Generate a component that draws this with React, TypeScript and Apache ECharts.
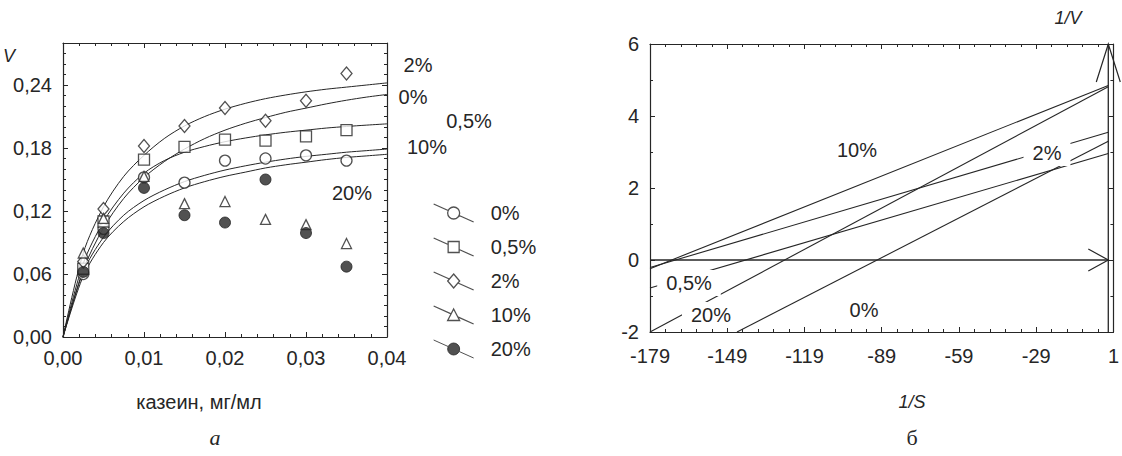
import React, { useEffect, useRef } from "react";
import * as echarts from "echarts";

const W = 1122;
const H = 456;
const FONT = "'Liberation Sans', Arial, sans-serif";
const SERIF = "'Liberation Serif', 'Times New Roman', serif";
const INK = "#262626";

// ---------- Panel а: V vs casein (mg/ml) ----------
const groups = ["0%", "0,5%", "2%", "10%", "20%"];
const caseinX = [0.0025, 0.005, 0.01, 0.015, 0.02, 0.025, 0.03, 0.035];
const v0pct = [0.06, 0.103, 0.152, 0.147, 0.168, 0.17, 0.173, 0.168];
const v05pct = [0.065, 0.11, 0.169, 0.181, 0.188, 0.187, 0.191, 0.197];
const v2pct = [0.072, 0.122, 0.182, 0.201, 0.218, 0.206, 0.225, 0.251];
const v10pct = [0.08, 0.113, 0.153, 0.127, 0.129, 0.112, 0.107, 0.089];
const v20pct = [0.062, 0.099, 0.142, 0.116, 0.109, 0.15, 0.099, 0.067];

// fitted curves (every 0.0025 mg/ml)
const fitX = [0, 0.0025, 0.005, 0.0075, 0.01, 0.0125, 0.015, 0.0175, 0.02, 0.0225, 0.025, 0.0275, 0.03, 0.0325, 0.035, 0.0375, 0.04];
const fit0 = [0, 0.064, 0.104, 0.132, 0.152, 0.167, 0.179, 0.189, 0.197, 0.2035, 0.209, 0.214, 0.218, 0.222, 0.2255, 0.2285, 0.231];
const fit05 = [0, 0.07, 0.11, 0.137, 0.156, 0.168, 0.176, 0.1815, 0.186, 0.1895, 0.1925, 0.195, 0.197, 0.199, 0.2005, 0.2018, 0.203];
const fit2 = [0, 0.08, 0.124, 0.153, 0.173, 0.189, 0.201, 0.21, 0.217, 0.2225, 0.227, 0.2305, 0.2335, 0.236, 0.238, 0.24, 0.242];
const fit10 = [0, 0.062, 0.095, 0.116, 0.13, 0.14, 0.148, 0.154, 0.159, 0.163, 0.1665, 0.1695, 0.172, 0.174, 0.176, 0.1775, 0.179];
const fit20 = [0, 0.058, 0.09, 0.11, 0.124, 0.134, 0.142, 0.148, 0.153, 0.157, 0.161, 0.164, 0.1665, 0.169, 0.171, 0.1725, 0.174];

const leftXTicks = { min: 0, max: 0.04, interval: 0.01 };
const leftYTicks = { min: 0, max: 0.28, interval: 0.06 };

// ---------- Panel б: 1/V vs 1/S (Lineweaver–Burk) ----------
const lb0 = [[-145.2, -2.0], [-1, 3.3]];
const lb05 = [[-179, -0.78], [-1, 2.96]];
const lb2 = [[-179, -0.21], [-1, 3.55]];
const lb10 = [[-179, -0.24], [-1, 4.85]];
const lb20 = [[-179, -2.0], [-1, 4.81]];
const axisH = [[-179, 0], [-1, 0]];
const axisV = [[-1, -2], [-1, 6]];
const arrowTips = [[-1, 0, 0], [-1, 6, 1]];
const rightXTicks = { min: -179, max: 1, interval: 30 };
const rightYTicks = { min: -2, max: 6, interval: 2 };

const comma = (v: number) => v.toFixed(2).replace(".", ",");

const axisStyle = (minorSplit: number, showLabel: boolean, extra: any = {}) => ({
  type: "value",
  axisLine: { show: true, onZero: false, lineStyle: { color: INK, width: 1.2 } },
  axisTick: { show: true, inside: true, length: 5, lineStyle: { color: INK, width: 1 } },
  minorTick: { show: true, splitNumber: minorSplit, length: 3, lineStyle: { color: INK, width: 1 } },
  splitLine: { show: false },
  minorSplitLine: { show: false },
  axisLabel: { show: showLabel, color: INK, fontSize: 20, fontFamily: FONT },
  ...extra,
});

const iconLineCircle = "path://M0,0L14.5,6.5M25.5,11.5L40,18M26,9A6,6,0,1,1,14,9A6,6,0,1,1,26,9Z";
const iconLineSquare = "path://M0,0L14.5,6.5M25.5,11.5L40,18M14.5,3.5L25.5,3.5L25.5,14.5L14.5,14.5Z";
const iconLineDiamond = "path://M0,0L15.7,7M24.3,11L40,18M20,2L26,9L20,16L14,9Z";
const iconLineTriangle = "path://M0,0L17.5,7.9M24.1,10.8L40,18M20,3L26,14.5L14,14.5Z";

const openStyle = { color: "#ffffff", borderColor: INK, borderWidth: 1.3 };
const filledStyle = { color: INK, borderColor: INK, borderWidth: 1 };

const pointSets = [v0pct, v05pct, v2pct, v10pct, v20pct];
const fitSets = [fit0, fit05, fit2, fit10, fit20];
const symbols = ["circle", "rect", "diamond", "triangle", "circle"];
const symbolSizes: any[] = [11, 11, [11, 13], [10, 10], 11];
const icons = [iconLineCircle, iconLineSquare, iconLineDiamond, iconLineTriangle, iconLineCircle];

const leftCurveLabels = [
  { text: "2%", x: 418, y: 65 },
  { text: "0%", x: 413, y: 97 },
  { text: "0,5%", x: 469, y: 121 },
  { text: "10%", x: 427, y: 147 },
  { text: "20%", x: 352, y: 193 },
];
const rightLineLabels = [
  { text: "10%", x: 857, y: 150 },
  { text: "2%", x: 1047, y: 153 },
  { text: "0,5%", x: 689, y: 283 },
  { text: "20%", x: 711, y: 315 },
  { text: "0%", x: 864, y: 310 },
];

function buildOption(): any {
  const series: any[] = [];
  fitSets.forEach((fs, i) => {
    series.push({
      type: "line",
      name: "fit " + groups[i],
      xAxisIndex: 0,
      yAxisIndex: 0,
      data: fitX.map((x, j) => [x, fs[j]]),
      smooth: 0.3,
      symbol: "none",
      lineStyle: { color: INK, width: 1 },
      z: 1,
      silent: true,
    });
  });
  pointSets.forEach((ps, i) => {
    series.push({
      type: "scatter",
      name: groups[i],
      xAxisIndex: 0,
      yAxisIndex: 0,
      data: caseinX.map((x, j) => [x, ps[j]]),
      symbol: symbols[i],
      symbolSize: symbolSizes[i],
      itemStyle: i === 4 ? filledStyle : openStyle,
      z: 3 + i,
      silent: true,
    });
  });
  [lb0, lb05, lb2, lb10, lb20].forEach((d, i) => {
    series.push({
      type: "line",
      name: "LB " + groups[i],
      xAxisIndex: 2,
      yAxisIndex: 2,
      data: d,
      symbol: "none",
      lineStyle: { color: INK, width: 1.1 },
      silent: true,
      z: 2,
    });
  });
  [axisH, axisV].forEach((d, i) => {
    series.push({
      type: "line",
      name: i === 0 ? "axis 1/S" : "axis 1/V",
      xAxisIndex: 2,
      yAxisIndex: 2,
      data: d,
      symbol: "none",
      lineStyle: { color: INK, width: 1.3 },
      silent: true,
      z: 2,
    });
  });
  series.push({
    type: "custom",
    name: "arrows",
    xAxisIndex: 2,
    yAxisIndex: 2,
    data: arrowTips,
    clip: false,
    silent: true,
    renderItem: (params: any, api: any) => {
      const p = api.coord([api.value(0), api.value(1)]);
      const dir = api.value(2);
      const pts =
        dir === 0
          ? [[p[0] - 20, p[1] - 11], [p[0], p[1]], [p[0] - 20, p[1] + 11]]
          : [[p[0] - 12, p[1] + 38], [p[0], p[1]], [p[0] + 12, p[1] + 38]];
      return {
        type: "polyline",
        shape: { points: pts },
        style: { stroke: INK, fill: "none", lineWidth: 1.2 },
      };
    },
  });

  const graphic: any[] = [];
  leftCurveLabels.forEach((l) =>
    graphic.push({
      type: "text",
      x: l.x,
      y: l.y,
      z: 100,
      style: { text: l.text, fontSize: 20, fontFamily: FONT, fill: INK, align: "center", verticalAlign: "middle" },
    })
  );
  rightLineLabels.forEach((l) =>
    graphic.push({
      type: "text",
      x: l.x,
      y: l.y,
      z: 100,
      style: {
        text: l.text,
        fontSize: 20,
        fontFamily: FONT,
        fill: INK,
        align: "center",
        verticalAlign: "middle",
        backgroundColor: "#ffffff",
        padding: [3, 9],
      },
    })
  );
  const titles = [
    { text: "V", x: 9, y: 56, size: 18, italic: true, family: FONT },
    { text: "казеин, мг/мл", x: 199, y: 402, size: 20, italic: false, family: FONT },
    { text: "а", x: 215, y: 437, size: 22, italic: true, family: SERIF },
    { text: "1/V", x: 1068, y: 18, size: 18, italic: true, family: FONT },
    { text: "1/S", x: 912, y: 402, size: 18, italic: true, family: FONT },
    { text: "б", x: 912, y: 437, size: 22, italic: false, family: SERIF },
  ];
  titles.forEach((t) =>
    graphic.push({
      type: "text",
      x: t.x,
      y: t.y,
      z: 100,
      style: {
        text: t.text,
        fontSize: t.size,
        fontFamily: t.family,
        fontStyle: t.italic ? "italic" : "normal",
        fill: INK,
        align: "center",
        verticalAlign: "middle",
      },
    })
  );

  return {
    animation: false,
    backgroundColor: "#ffffff",
    textStyle: { fontFamily: FONT },
    grid: [
      { left: 63, top: 43, width: 324, height: 294 },
      { left: 650, top: 44, width: 470, height: 288 },
    ],
    xAxis: [
      axisStyle(5, true, {
        gridIndex: 0,
        position: "bottom",
        ...leftXTicks,
        axisLabel: { show: true, color: INK, fontSize: 20, fontFamily: FONT, margin: 11, formatter: comma },
      }),
      axisStyle(5, false, { gridIndex: 0, position: "top", ...leftXTicks }),
      axisStyle(5, true, {
        gridIndex: 1,
        position: "bottom",
        ...rightXTicks,
        axisLabel: {
          show: true,
          color: INK,
          fontSize: 20,
          fontFamily: FONT,
          margin: 14,
          formatter: (v: number) => String(Math.round(v)),
        },
      }),
      axisStyle(5, false, { gridIndex: 1, position: "top", ...rightXTicks }),
    ],
    yAxis: [
      axisStyle(6, true, {
        gridIndex: 0,
        position: "left",
        ...leftYTicks,
        axisLabel: {
          show: true,
          color: INK,
          fontSize: 20,
          fontFamily: FONT,
          margin: 11,
          showMaxLabel: false,
          formatter: comma,
        },
      }),
      axisStyle(6, false, { gridIndex: 0, position: "right", ...leftYTicks }),
      axisStyle(2, true, {
        gridIndex: 1,
        position: "left",
        ...rightYTicks,
        axisLabel: {
          show: true,
          color: INK,
          fontSize: 20,
          fontFamily: FONT,
          margin: 11,
          formatter: (v: number) => String(Math.round(v)),
        },
      }),
      axisStyle(2, false, { gridIndex: 1, position: "right", ...rightYTicks }),
    ],
    legend: {
      show: true,
      orient: "vertical",
      left: 428,
      top: 198,
      itemWidth: 40,
      itemHeight: 18,
      itemGap: 14,
      selectedMode: false,
      textStyle: { color: INK, fontSize: 20, fontFamily: FONT, padding: [0, 0, 0, 12] },
      data: groups.map((g, i) => ({
        name: g,
        icon: icons[i],
        itemStyle: i === 4 ? filledStyle : openStyle,
      })),
    },
    graphic,
    series,
  };
}

export default function App() {
  const ref = useRef<HTMLDivElement>(null);
  useEffect(() => {
    if (!ref.current) return;
    const chart = echarts.init(ref.current, undefined, { renderer: "svg" });
    chart.setOption(buildOption());
    return () => chart.dispose();
  }, []);
  return (
    <div
      ref={ref}
      style={{ position: "absolute", left: 0, top: 0, width: W, height: H, background: "#fff" }}
    />
  );
}
